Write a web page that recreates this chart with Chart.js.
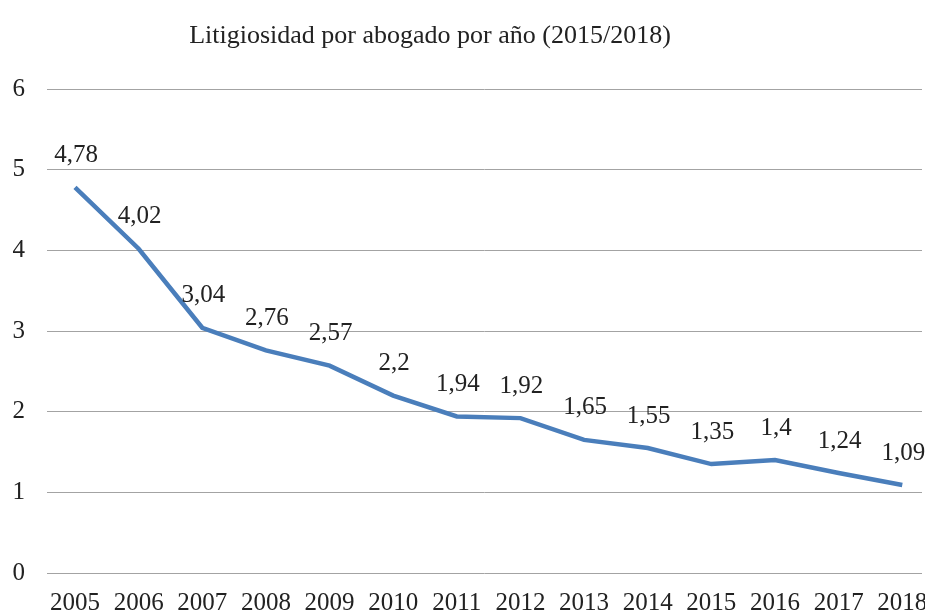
<!DOCTYPE html>
<html>
<head>
<meta charset="utf-8">
<script src="https://cdn.jsdelivr.net/npm/chart.js@4"></script>
<style>
  html, body { margin: 0; padding: 0; background: #fff; }
  #wrap { width: 925px; height: 613px; position: relative; }
</style>
</head>
<body>
<div id="wrap"><canvas id="chart"></canvas></div>
<script>
// Data
const years = [2005, 2006, 2007, 2008, 2009, 2010, 2011, 2012, 2013, 2014, 2015, 2016, 2017, 2018];
const litigiosidad = [4.78, 4.02, 3.04, 2.76, 2.57, 2.2, 1.94, 1.92, 1.65, 1.55, 1.35, 1.4, 1.24, 1.09];
const yTicks = [0, 1, 2, 3, 4, 5, 6];
const chartTitle = 'Litigiosidad por abogado por año (2015/2018)';

const FONT = '"Liberation Serif", "DejaVu Serif", serif';
const TEXT = '#222222';

const fmt = (v) => String(v).replace('.', ',');

// Title drawn off-centre like the original
const titlePlugin = {
  id: 'offTitle',
  afterDraw(chart) {
    const { ctx } = chart;
    ctx.save();
    ctx.font = '26px ' + FONT;
    ctx.fillStyle = TEXT;
    ctx.textAlign = 'center';
    ctx.textBaseline = 'middle';
    ctx.fillText(chartTitle, 430, 36);
    ctx.restore();
  },
};

// Value labels above each point
const valueLabels = {
  id: 'valueLabels',
  afterDatasetsDraw(chart) {
    const { ctx } = chart;
    const meta = chart.getDatasetMeta(0);
    ctx.save();
    ctx.font = '25px ' + FONT;
    ctx.fillStyle = TEXT;
    ctx.textAlign = 'center';
    ctx.textBaseline = 'middle';
    meta.data.forEach((pt, i) => {
      ctx.fillText(fmt(litigiosidad[i]), pt.x + 1, pt.y - 32);
    });
    ctx.restore();
  },
};

const ctx = document.getElementById('chart');

new Chart(ctx, {
  type: 'line',
  data: {
    datasets: [{
      label: 'Litigiosidad',
      data: years.map((y, i) => ({ x: y, y: litigiosidad[i] })),
      borderColor: '#4a7ebb',
      borderWidth: 4.5,
      pointRadius: 0,
      tension: 0,
      fill: false,
    }],
  },
  options: {
    responsive: true,
    maintainAspectRatio: false,
    animation: false,
    layout: {
      padding: { top: 89, right: 3, bottom: 0, left: 0 },
    },
    scales: {
      x: {
        type: 'linear',
        min: 2004.56,
        max: 2018.31,
        afterBuildTicks: (scale) => {
          scale.ticks = years.map(v => ({ value: v }));
        },
        grid: { display: false, drawTicks: false },
        border: { display: false },
        ticks: {
          autoSkip: false,
          maxRotation: 0,
          padding: 15,
          color: TEXT,
          font: { family: FONT, size: 25 },
          callback: (value) => String(value),
        },
        afterFit: (scale) => {
          scale.height = 40;
          scale.paddingLeft = 0;
          scale.paddingRight = 0;
        },
      },
      y: {
        min: 0,
        max: 6,
        afterBuildTicks: (scale) => {
          scale.ticks = yTicks.map(v => ({ value: v }));
        },
        grid: { color: '#a3a3a3', lineWidth: 1, drawTicks: false },
        border: { display: false },
        ticks: {
          padding: 22,
          color: TEXT,
          font: { family: FONT, size: 25 },
        },
        afterFit: (scale) => { scale.width = 47; },
      },
    },
    plugins: {
      legend: { display: false },
      tooltip: { enabled: false },
      title: { display: false },
    },
  },
  plugins: [titlePlugin, valueLabels],
});
</script>
</body>
</html>
